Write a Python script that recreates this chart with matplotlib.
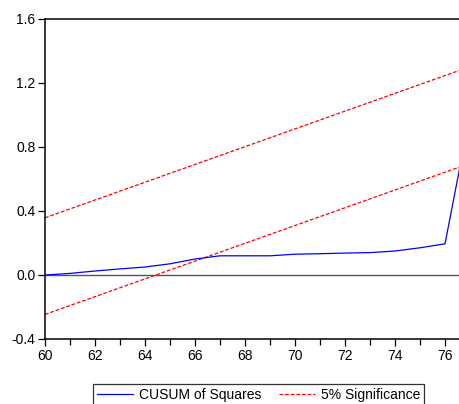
import numpy as np
import matplotlib
matplotlib.use('Agg')
import matplotlib.pyplot as plt
from matplotlib.ticker import MultipleLocator

# CUSUM of squares test, annual observations 1960-1977
years = [60, 61, 62, 63, 64, 65, 66, 67, 68, 69, 70, 71, 72, 73, 74, 75, 76, 77]
cusum_sq = [0.0, 0.01, 0.025, 0.038, 0.05, 0.07, 0.10, 0.12, 0.12, 0.12,
            0.13, 0.133, 0.137, 0.14, 0.15, 0.17, 0.195, 1.0]
# expected value line and 5% band half-width
expected = [(y - 59) / 18 for y in years]
band = 0.302
lower = [e - band for e in expected]
upper = [e + band for e in expected]

plt.rcParams['font.family'] = ['Liberation Sans', 'DejaVu Sans']

fig = plt.figure(figsize=(4.59, 4.04), dpi=100)
ax = fig.add_axes([45 / 459, 1 - 339 / 404, 1 - 45 / 459, 320 / 404])

ax.axhline(0, color='#555555', lw=1.0, zorder=1)
ax.plot(years, cusum_sq, color='blue', lw=0.9, label='CUSUM of Squares', zorder=3)
ax.plot(years, upper, color='red', lw=0.9, ls=(0, (3, 1.5)), label='5% Significance', zorder=2)
ax.plot(years, lower, color='red', lw=0.9, ls=(0, (3, 1.5)), zorder=2)

ax.set_xlim(60, 76.56)
ax.set_ylim(-0.4, 1.6)
ax.xaxis.set_major_locator(MultipleLocator(2))
ax.xaxis.set_minor_locator(MultipleLocator(1))
ax.yaxis.set_major_locator(MultipleLocator(0.4))
ax.yaxis.set_major_formatter(plt.FuncFormatter(lambda v, p: f'{v:.1f}'))
ax.tick_params(axis='both', which='major', direction='out', length=5, width=0.9,
               labelsize=10, pad=2)
ax.tick_params(axis='x', which='minor', direction='out', length=4, width=0.9)
for s in ['left', 'bottom', 'top']:
    ax.spines[s].set_linewidth(1.1)
ax.spines['right'].set_visible(False)

leg = ax.legend(loc='upper left', bbox_to_anchor=(93 / 459, 1 - 384 / 404),
                bbox_transform=fig.transFigure, ncol=2, frameon=True, fancybox=False,
                edgecolor='black', fontsize=10, handlelength=2.6, columnspacing=1.3,
                borderpad=0.3, handletextpad=0.4, borderaxespad=0)
leg.get_frame().set_linewidth(0.9)

fig.savefig('out.png', dpi=100)
